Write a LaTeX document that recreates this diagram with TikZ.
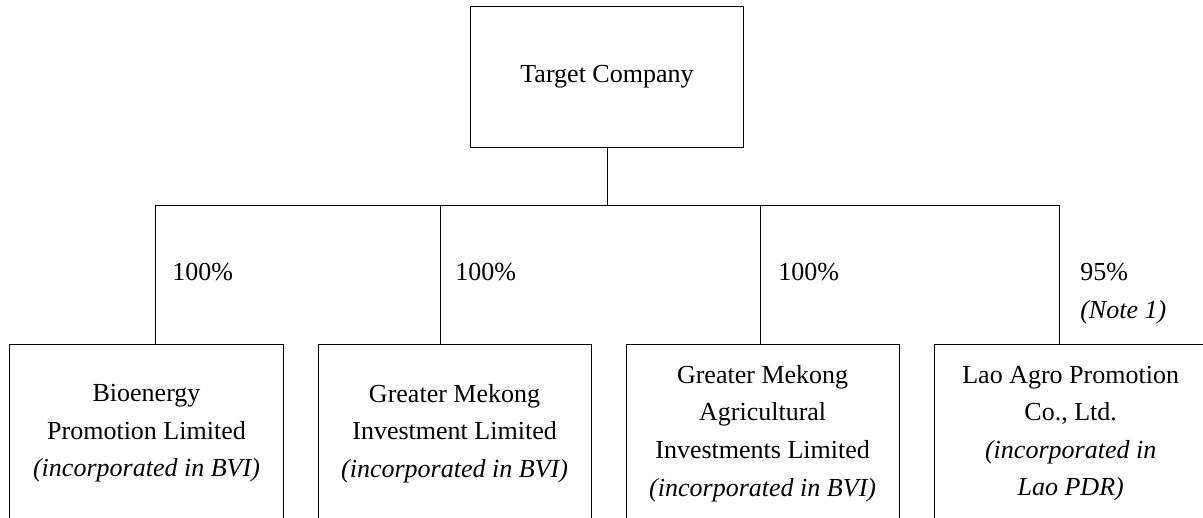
\documentclass[tikz,border=0pt]{standalone}
\usepackage{fontspec}
\setmainfont{Liberation Serif}
\usetikzlibrary{positioning}

\begin{document}
\begin{tikzpicture}[x=0.025cm, y=-0.025cm, node distance=0.85cm,
    every node/.style={font=\fontsize{18.5}{26.7}\selectfont},
    company/.style={rectangle, draw, line width=0.7pt, minimum width=6.825cm, minimum height=4.425cm, align=center, inner sep=0pt},
    share/.style={anchor=base west, align=left, inner sep=0pt}]
    \useasboundingbox (0,0) rectangle (1203,518);
    \clip (0,0) rectangle (1203,518);

    \node[company, minimum width=6.815cm, minimum height=3.5cm] (target) at (607,77) {Target Company};
    \node[company] (bioenergy) at (146.5,433.5) {Bioenergy\\Promotion Limited\\\textit{(incorporated in BVI)}};
    \node[company, right=of bioenergy] (gmil) {Greater Mekong\\Investment Limited\\\textit{(incorporated in BVI)}};
    \node[company, right=of gmil] (gmail) {Greater Mekong\\Agricultural\\Investments Limited\\\textit{(incorporated in BVI)}};
    \node[company, right=of gmail] (laoagro) {Lao Agro Promotion\\Co., Ltd.\\\textit{(incorporated in}\\\textit{Lao PDR)}};

    \coordinate (hub) at (607,205);
    \coordinate (t1) at (155.7,345);
    \coordinate (t2) at (440.7,345);
    \coordinate (t3) at (760.7,345);
    \coordinate (t4) at (1059,345);

    \draw[line width=0.7pt] (target) -- (hub);
    \draw[line width=0.7pt] (t1 |- hub) -- (t4 |- hub);
    \foreach \t in {t1,t2,t3,t4}
        \draw[line width=0.7pt] (\t |- hub) -- (\t);

    \node[share] (p1) at (172,280) {100\%};
    \node[share] (p2) at (455,280) {100\%};
    \node[share] (p3) at (778,280) {100\%};
    \node[share] (p4) at (1080,318) {95\%\\\textit{(Note 1)}};

\end{tikzpicture}
\end{document}
